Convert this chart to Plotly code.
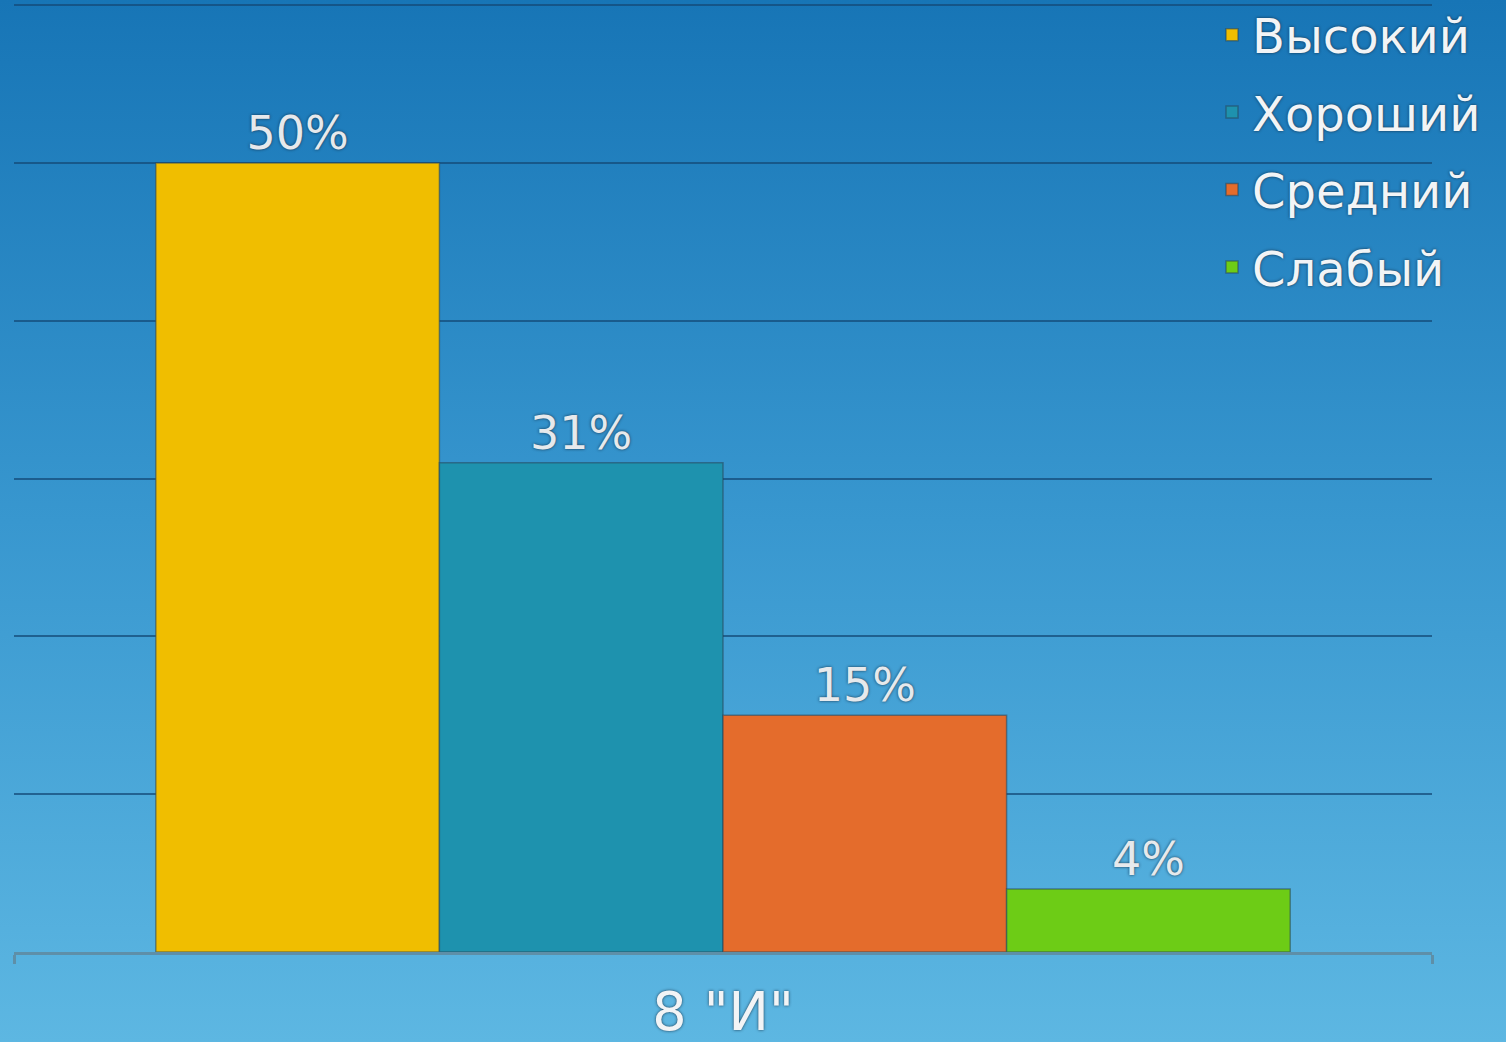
import base64
import plotly.graph_objects as go

categories = ['8 "И"']
series_names = ["Высокий", "Хороший", "Средний", "Слабый"]
series_values = [50, 31, 15, 4]
series_colors = ["#F0BE00", "#1E92AE", "#E46C2C", "#6DCC16"]
y_ticks = [0, 10, 20, 30, 40, 50, 60]

W, H = 1506, 1042
ml, mr, mt, mb = 14, 74, 2, 90
pw, ph = W - ml - mr, H - mt - mb

svg = (
    f'<svg xmlns="http://www.w3.org/2000/svg" width="{W}" height="{H}" preserveAspectRatio="none">'
    '<defs><linearGradient id="g" x1="0" y1="0" x2="0" y2="1">'
    '<stop offset="0" stop-color="#1775b6"/>'
    '<stop offset="0.5" stop-color="#3897cf"/>'
    '<stop offset="1" stop-color="#5db7e2"/>'
    '</linearGradient></defs>'
    f'<rect width="{W}" height="{H}" fill="url(#g)"/></svg>'
)
src = "data:image/svg+xml;base64," + base64.b64encode(svg.encode()).decode()

shadow = "0px 0px 3px rgba(20,40,60,0.9)"
fig = go.Figure()
for name, val, col in zip(series_names, series_values, series_colors):
    fig.add_trace(go.Bar(
        x=categories, y=[val], name=name,
        marker=dict(color=col, line=dict(color="rgba(40,70,90,0.55)", width=1.5)),
        text=[f"{val}%"], textposition="outside",
        textfont=dict(family="DejaVu Sans", size=46, color="#E6E9EC", shadow=shadow),
        cliponaxis=False, legendgroup=name,
    ))

fig.update_layout(
    width=W, height=H,
    margin=dict(l=ml, r=mr, t=mt, b=mb, autoexpand=False),
    paper_bgcolor="#3a98d0",
    plot_bgcolor="rgba(0,0,0,0)",
    barmode="group", bargap=0.2, bargroupgap=0,
    images=[dict(source=src, xref="paper", yref="paper",
                 x=-ml / pw, y=1 + mt / ph, sizex=W / pw, sizey=H / ph,
                 xanchor="left", yanchor="top", sizing="stretch", layer="below")],
    legend=dict(x=(1212 - ml) / pw, y=1 + (mt + 3) / ph, xanchor="left", yanchor="top",
                bgcolor="rgba(0,0,0,0)", traceorder="grouped", tracegroupgap=12,
                font=dict(family="DejaVu Sans", size=48, color="#F2F4F6", shadow=shadow),
                itemwidth=30),
    xaxis=dict(showgrid=False, showline=True, linecolor="#5E8FA8", linewidth=3,
               ticks="outside", tickson="boundaries", ticklen=9, tickwidth=3,
               tickcolor="#5E8FA8", ticklabelstandoff=10,
               tickfont=dict(family="DejaVu Sans", size=54, color="#F2F4F6", shadow=shadow)),
    yaxis=dict(range=[0, 60.2], tickvals=y_ticks, showticklabels=False,
               showgrid=True, gridcolor="rgba(20,75,120,0.75)", gridwidth=2,
               zeroline=False, showline=False),
)

fig.write_html("out.html", config={"displayModeBar": False},
               post_script="document.body.style.margin='0';")
